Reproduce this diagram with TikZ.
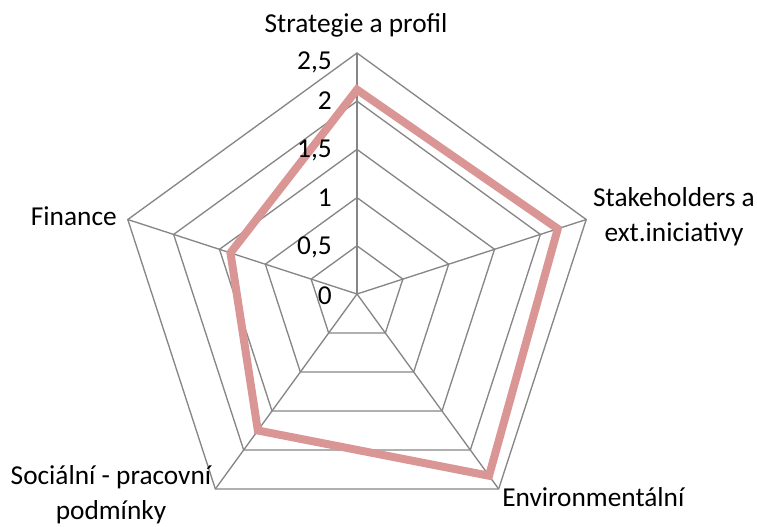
\documentclass[tikz,border=0pt]{standalone}
\usepackage{fontspec}
\setmainfont{Carlito}
\usetikzlibrary{calc}
\definecolor{ser}{RGB}{217,150,148}
\definecolor{gridc}{RGB}{134,134,134}
\begin{document}
\begin{tikzpicture}[x=0.75pt,y=-0.75pt,
  grid/.style={draw=gridc,line width=1pt},
  spoke/.style={draw=gridc,line width=1pt},
  series/.style={draw=ser,line width=6pt,line join=miter},
  lab/.style={font=\fontsize{20.5}{26}\selectfont,inner sep=0pt,align=center},
  ticklab/.style={font=\fontsize{20.5}{26}\selectfont,inner sep=0pt,anchor=east}]
\useasboundingbox (0,0) rectangle (757,526);
\coordinate (c) at (357,294);
\def\R{48.2}
% grid pentagons
\foreach \k in {1,...,5}{
  \draw[grid] ($(c)+(-90:\k*\R)$) -- ($(c)+(-18:\k*\R)$) -- ($(c)+(54:\k*\R)$) -- ($(c)+(126:\k*\R)$) -- ($(c)+(198:\k*\R)$) -- cycle;
}
% spokes
\foreach \a in {-18,54,126,198}{
  \draw[spoke] (c) -- ($(c)+(\a:5*\R)$);
}
\draw[spoke,line width=1.6pt] (c) -- ($(c)+(-90:5*\R)$);
% series
\coordinate (s1) at ($(c)+(-90:2.12*5*\R/2.5)$);
\coordinate (s2) at ($(c)+(-18:2.19*5*\R/2.5)$);
\coordinate (s3) at ($(c)+(54:2.33*5*\R/2.5)$);
\coordinate (s4) at ($(c)+(126:1.75*5*\R/2.5)$);
\coordinate (s5) at ($(c)+(198:1.38*5*\R/2.5)$);
\draw[series] (s1) -- (s2) -- (s3) -- (s4) -- (s5) -- cycle;
% tick labels
\node[ticklab] (t0) at (332,296) {0};
\node[ticklab] (t1) at (332,247) {0,5};
\node[ticklab] (t2) at (332,198) {1};
\node[ticklab] (t3) at (332,150) {1,5};
\node[ticklab] (t4) at (332,101) {2};
\node[ticklab] (t5) at (332,62) {2,5};
% axis labels
\node[lab] (l1) at (356,25) {Strategie a profil};
\node[lab] (l2) at (674,217) {Stakeholders a\\ext.iniciativy};
\node[lab,anchor=west] (l3) at (502,497) {Environmentální};
\node[lab] (l4) at (111,495) {Sociální - pracovní\\podmínky};
\node[lab,anchor=east] (l5) at (117,216) {Finance};
\end{tikzpicture}
\end{document}
